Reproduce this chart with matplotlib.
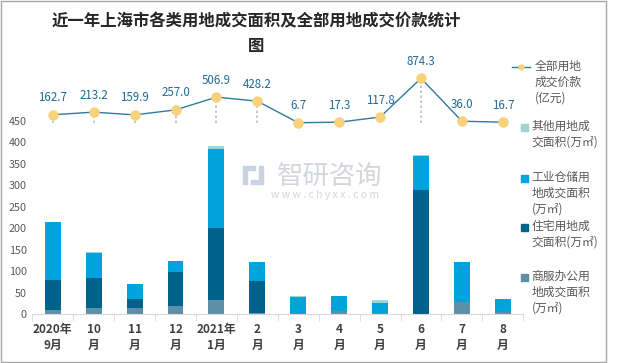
import matplotlib
matplotlib.use("Agg")
import matplotlib.pyplot as plt
import numpy as np
from matplotlib.lines import Line2D
from matplotlib.patches import Rectangle

plt.rcParams['font.family'] = ['Noto Sans CJK SC', 'DejaVu Sans']

categories = ["2020年\n9月", "10\n月", "11\n月", "12\n月", "2021年\n1月", "2\n月",
              "3\n月", "4\n月", "5\n月", "6\n月", "7\n月", "8\n月"]
commercial = [10, 15, 15, 19, 33, 3, 1.5, 8, 3, 1, 29, 5]
residential = [70, 70, 21, 79, 167, 74, 0, 0, 0, 288, 0, 0]
industrial = [135, 58, 35, 26, 184, 44, 39, 35, 23, 79, 93, 30]
other = [0, 2.5, 0, 0, 7, 0, 2, 0, 7, 2, 0, 0]
price = [162.7, 213.2, 159.9, 257.0, 506.9, 428.2, 6.7, 17.3, 117.8, 874.3, 36.0, 16.7]

c_com = "#5f8fa7"
c_res = "#00618a"
c_ind = "#00a3db"
c_oth = "#9fd6d4"
c_line = "#2f7b9b"
c_mark = "#f7d27a"
c_lab = "#1f6c94"

W, H = 620, 363
fig = plt.figure(figsize=(W / 100, H / 100), dpi=100)
fig.patches.append(Rectangle((0.5 / W, 1 / H), 605 / W, 361 / H, transform=fig.transFigure,
                             fill=False, edgecolor="#a6a6a6", lw=1.0))

ax = fig.add_axes([32.3 / W, 48.7 / H, 491 / W, 253.7 / H])
x = np.arange(len(categories))
bw = 0.39
com = np.array(commercial); res = np.array(residential)
ind = np.array(industrial); oth = np.array(other)
ax.bar(x, com, bw, color=c_com, zorder=2)
ax.bar(x, res, bw, bottom=com, color=c_res, zorder=2)
ax.bar(x, ind, bw, bottom=com + res, color=c_ind, zorder=2)
ax.bar(x, oth, bw, bottom=com + res + ind, color=c_oth, zorder=2)
ax.set_xlim(-0.5, len(categories) - 0.5)
ax.set_ylim(0, 590)
ax.set_yticks(np.arange(0, 451, 50))
ax.tick_params(axis='y', length=0, labelsize=7.8, labelcolor="#595959", pad=4)
for s in ["top", "right", "left"]:
    ax.spines[s].set_visible(False)
ax.spines["bottom"].set_color("#d9d9d9")
ax.set_xticks(x)
ax.set_xticklabels(categories, fontsize=8.5, fontweight="bold", color="#404040", linespacing=1.35)
ax.tick_params(axis='x', length=0, pad=6)
ax.set_xticks(np.arange(-0.5, len(categories), 1), minor=True)
ax.tick_params(axis='x', which='minor', length=5, color="#d9d9d9")

ax2 = ax.twinx()
ax2.set_ylim(-3735, 1220)
ax2.axis("off")
ax2.vlines(x, 0, price, colors="#bfbfbf", linestyles=(0, (1.5, 1.5)), lw=1.2, zorder=1)
ax2.plot(x, price, color=c_line, lw=1.0, marker="o", markersize=6.5,
         markerfacecolor=c_mark, markeredgecolor=c_mark, zorder=3)
for xi, v in zip(x, price):
    ax2.annotate(f"{v:.1f}", (xi, v), xytext=(0, 7.5), textcoords="offset points",
                 ha="center", va="bottom", fontsize=8.3, color=c_lab)

# watermark
wm = "#c8ccd2"
fig.patches.append(Rectangle((243 / W, 1 - 170 / H), 12 / W, 4 / H, transform=fig.transFigure,
                             color="#c9d3e3"))
fig.patches.append(Rectangle((243 / W, 1 - 184 / H), 4 / W, 14 / H, transform=fig.transFigure,
                             color="#c9d3e3"))
fig.patches.append(Rectangle((251 / W, 1 - 184 / H), 12 / W, 4 / H, transform=fig.transFigure,
                             color="#c9d3e3"))
fig.patches.append(Rectangle((259 / W, 1 - 180 / H), 4 / W, 14 / H, transform=fig.transFigure,
                             color="#c9d3e3"))
fig.text(330 / W, 1 - 176 / H, "智研咨询", fontsize=19, color=wm, ha="center", va="center", alpha=0.8)
fig.text(325 / W, 1 - 195 / H, "w w w . c h y x x . c o m", fontsize=7.5, color=wm,
         ha="center", va="center", alpha=0.8)

fig.text(256 / W, 1 - 21.5 / H, "近一年上海市各类用地成交面积及全部用地成交价款统计",
         fontsize=11.8, fontweight="bold", color="#262626", ha="center", va="center")
fig.text(256 / W, 1 - 46.5 / H, "图", fontsize=11.8, fontweight="bold", color="#262626",
         ha="center", va="center")

# legend
lf = 8.5
tx = 531.5
fig.add_artist(Line2D([512 / W, 530 / W], [1 - 67 / H, 1 - 67 / H], color=c_line, lw=1.0,
                      transform=fig.transFigure))
fig.add_artist(Line2D([521 / W], [1 - 67 / H], marker="o", markersize=3.6, color=c_mark,
                      transform=fig.transFigure))
fig.text(535 / W, 1 - 60 / H, "全部用地\n成交价款\n(亿元)", fontsize=lf, color="#595959",
         ha="left", va="top", linespacing=1.3)

entries = [(128, c_oth, "其他用地成\n交面积(万㎡)"),
           (178.5, c_ind, "工业仓储用\n地成交面积\n(万㎡)"),
           (228, c_res, "住宅用地成\n交面积(万㎡)"),
           (277.5, c_com, "商服办公用\n地成交面积\n(万㎡)")]
for yc, col, txt in entries:
    fig.patches.append(Rectangle((521 / W, 1 - (yc + 3.5) / H), 7 / W, 7 / H,
                                 transform=fig.transFigure, color=col))
    fig.text(tx / W, 1 - (yc - 8) / H, txt, fontsize=lf, color="#595959", ha="left", va="top",
             linespacing=1.3)

fig.savefig("out.png", dpi=100)
